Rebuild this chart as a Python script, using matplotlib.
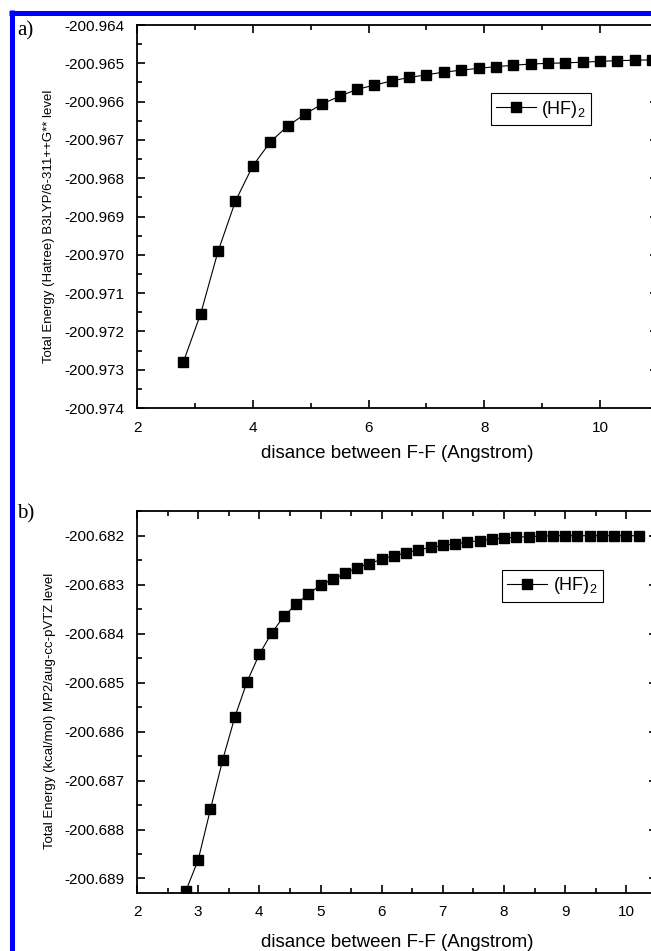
import matplotlib
matplotlib.use('Agg')
import matplotlib.pyplot as plt
from matplotlib.ticker import MultipleLocator, FormatStrFormatter
from matplotlib.lines import Line2D

plt.rcParams['font.family'] = ['Liberation Sans', 'DejaVu Sans']
plt.rcParams['mathtext.fontset'] = 'custom'
plt.rcParams['mathtext.rm'] = 'Liberation Sans'
plt.rcParams['mathtext.it'] = 'Liberation Sans'

# a) B3LYP/6-311++G** scan, F-F distance (Angstrom) vs total energy (Hartree)
dist_a = [2.8, 3.1, 3.4, 3.7, 4.0, 4.3, 4.6, 4.9, 5.2, 5.5, 5.8, 6.1, 6.4, 6.7,
          7.0, 7.3, 7.6, 7.9, 8.2, 8.5, 8.8, 9.1, 9.4, 9.7, 10.0, 10.3, 10.6, 10.9]
energy_a = [-200.97280, -200.97154, -200.96991, -200.96860, -200.96768, -200.96706,
            -200.96664, -200.96633, -200.96606, -200.96586, -200.96568, -200.96557,
            -200.96546, -200.96537, -200.96530, -200.96523, -200.96518, -200.96513,
            -200.96509, -200.96505, -200.96502, -200.96500, -200.96499, -200.96497,
            -200.96495, -200.96493, -200.96492, -200.96491]

# b) MP2/aug-cc-pVTZ scan
dist_b = [2.8, 3.0, 3.2, 3.4, 3.6, 3.8, 4.0, 4.2, 4.4, 4.6, 4.8, 5.0, 5.2, 5.4,
          5.6, 5.8, 6.0, 6.2, 6.4, 6.6, 6.8, 7.0, 7.2, 7.4, 7.6, 7.8, 8.0, 8.2,
          8.4, 8.6, 8.8, 9.0, 9.2, 9.4, 9.6, 9.8, 10.0, 10.2]
energy_b = [-200.68925, -200.68862, -200.68759, -200.68658, -200.68570, -200.68498,
            -200.68442, -200.68399, -200.68365, -200.68340, -200.68319, -200.68301,
            -200.68289, -200.68277, -200.68265, -200.68257, -200.68248, -200.68241,
            -200.68235, -200.68229, -200.68224, -200.68220, -200.68217, -200.68213,
            -200.68210, -200.68207, -200.68205, -200.68203, -200.68202, -200.68201,
            -200.68200, -200.68200, -200.68200, -200.68200, -200.68200, -200.68200,
            -200.68200, -200.68200]

xlabel = 'disance between F-F (Angstrom)'
ylabel_a = 'Total Energy (Hatree) B3LYP/6-311++G** level'
ylabel_b = 'Total Energy (kcal/mol) MP2/aug-cc-pVTZ level'
series_name = '(HF)$_2$'

fig = plt.figure(figsize=(6.51, 9.51), dpi=100)
W, H = 651.0, 951.0

def px_axes(left, top, right, bottom):
    return fig.add_axes([left / W, 1 - bottom / H, (right - left) / W, (bottom - top) / H])

ax1 = px_axes(137, 25, 658, 408)
ax2 = px_axes(137, 510.7, 657, 892.7)

def style(ax, xmaj, xmin):
    for s in ax.spines.values():
        s.set_linewidth(1.3)
    ax.tick_params(which='both', direction='in', top=True, right=True, width=1.2)
    ax.tick_params(which='major', length=6)
    ax.tick_params(which='minor', length=3.5)
    ax.tick_params(axis='y', labelsize=11, pad=9)
    ax.tick_params(axis='x', labelsize=11, pad=9)
    ax.xaxis.set_major_locator(MultipleLocator(xmaj))
    ax.xaxis.set_minor_locator(MultipleLocator(xmin))
    ax.yaxis.set_major_locator(MultipleLocator(0.001))
    ax.yaxis.set_minor_locator(MultipleLocator(0.0005))
    ax.yaxis.set_major_formatter(FormatStrFormatter('%.3f'))
    ax.xaxis.set_major_formatter(FormatStrFormatter('%d'))

# panel a
ax1.plot(dist_a, energy_a, color='black', lw=0.8, marker='s', ms=6.5,
         mfc='black', mec='black', label=series_name)
ax1.set_xlim(2, 11)
ax1.set_ylim(-200.974, -200.964)
style(ax1, 2, 1)
ax1.set_xlabel(xlabel, fontsize=13.5)
ax1.set_ylabel(ylabel_a, fontsize=9.5)
ax1.xaxis.set_label_coords(0.5, -0.097)
ax1.yaxis.set_label_coords(-0.157, 0.474)
ax1.legend(loc='upper left', bbox_to_anchor=(0.679, 0.822), fontsize=13,
           frameon=True, fancybox=False, edgecolor='black', framealpha=1,
           handlelength=2.2, handletextpad=0.3, borderpad=0.3, borderaxespad=0)

# panel b
ax2.plot(dist_b, energy_b, color='black', lw=0.8, marker='s', ms=6.5,
         mfc='black', mec='black', label=series_name)
ax2.set_xlim(2, 10.5)
ax2.set_ylim(-200.68929, -200.68149)
style(ax2, 1, 0.5)
ax2.set_xlabel(xlabel, fontsize=13.5)
ax2.set_ylabel(ylabel_b, fontsize=9.5)
ax2.xaxis.set_label_coords(0.5, -0.108)
ax2.yaxis.set_label_coords(-0.156, 0.476)
ax2.legend(loc='upper left', bbox_to_anchor=(0.702, 0.845), fontsize=13,
           frameon=True, fancybox=False, edgecolor='black', framealpha=1,
           handlelength=2.2, handletextpad=0.3, borderpad=0.3, borderaxespad=0)
for leg in (ax1.get_legend(), ax2.get_legend()):
    leg.get_frame().set_linewidth(0.8)

# panel letters
fig.text(17 / W, 1 - 31 / H, 'a)', family='Liberation Serif', fontsize=15, va='center', ha='left')
fig.text(17 / W, 1 - 514 / H, 'b)', family='Liberation Serif', fontsize=15, va='center', ha='left')

# blue frame along the top and left edges
fig.add_artist(Line2D([11.5 / W, 11.5 / W], [1 - 10 / H, 0], color='#0000ff', lw=3.6,
                      solid_capstyle='butt', transform=fig.transFigure))
fig.add_artist(Line2D([9 / W, 1], [1 - 12.5 / H, 1 - 12.5 / H], color='#0000ff', lw=3.6,
                      solid_capstyle='butt', transform=fig.transFigure))

fig.savefig('out.png', dpi=100)
